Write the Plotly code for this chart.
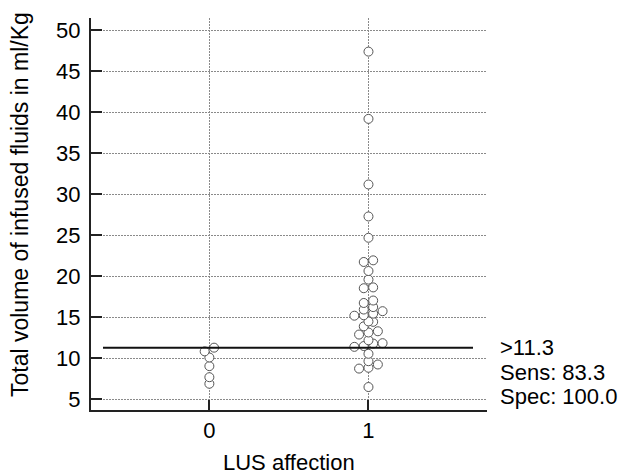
import plotly.graph_objects as go

# ---- data ----
categories = [0, 1]
group0_values = [11.3, 10.85, 10.1, 9.05, 7.7, 6.9]
group1_values = [47.4, 39.2, 31.2, 27.3, 24.7, 21.95, 21.75, 20.65, 19.6, 18.65,
                 18.55, 17.05, 16.75, 16.25, 15.95, 15.75, 15.45, 15.25, 15.2, 14.5,
                 14.45, 13.9, 13.3, 13.15, 12.9, 12.2, 11.85, 11.8, 11.5, 11.4,
                 10.55, 9.65, 9.25, 8.85, 8.75, 6.5]
cutoff = 11.3
y_ticks = [5, 10, 15, 20, 25, 30, 35, 40, 45, 50]
annot_texts = [">11.3", "Sens: 83.3", "Spec: 100.0"]

# ---- layout constants ----
W, H = 619, 475
ML, MR, MT, MB = 91, 132, 18, 65
XR = [-0.744, 1.745]
YR = [3.7, 51.5]
FONT = "Liberation Sans, Arial, sans-serif"
FS = 22

px_per_xunit = (W - ML - MR) / (XR[1] - XR[0])
slot = 9.4 / px_per_xunit   # horizontal spacing between side-by-side dots
bin_w = 0.58                # vertical bin size (data units)


def swarm(cat, values):
    vals = sorted(values)
    xs, ys = [], []
    i = 0
    while i < len(vals):
        j = i
        while j + 1 < len(vals) and vals[j + 1] - vals[i] < bin_w:
            j += 1
        n = j - i + 1
        for k in range(n):
            xs.append(cat + (k - (n - 1) / 2) * slot)
            ys.append(vals[i + k])
        i = j + 1
    return xs, ys


fig = go.Figure()
for cat, vals in zip(categories, [group0_values, group1_values]):
    xs, ys = swarm(cat, vals)
    fig.add_trace(go.Scatter(
        x=xs, y=ys, mode="markers",
        marker=dict(symbol="circle", size=9, color="white",
                    line=dict(color="#555555", width=1)),
        showlegend=False, hoverinfo="y"))

# cutoff line
fig.add_shape(type="line", xref="x", yref="y",
              x0=XR[0] + 12 / px_per_xunit, x1=XR[1] - 14 / px_per_xunit,
              y0=cutoff, y1=cutoff, line=dict(color="#111111", width=2))

annotations = []
for i, t in enumerate(annot_texts):
    annotations.append(dict(
        text=t, xref="paper", yref="y", x=1.0 + 11 / (W - ML - MR), y=cutoff,
        yshift=-24.5 * i, xanchor="left", yanchor="middle", showarrow=False,
        font=dict(family=FONT, size=FS, color="black")))

plot_h = H - MT - MB
annotations.append(dict(
    text="Total volume of infused fluids in ml/Kg", textangle=-90,
    xref="paper", yref="paper", x=(20 - ML) / (W - ML - MR),
    y=(H - MB - 205) / plot_h, xanchor="center", yanchor="middle",
    showarrow=False, font=dict(family=FONT, size=23, color="black")))
annotations.append(dict(
    text="LUS affection", xref="paper", yref="paper", x=0.5,
    y=(H - MB - 462) / plot_h, xanchor="center", yanchor="middle",
    showarrow=False, font=dict(family=FONT, size=FS, color="black")))

fig.update_layout(
    width=W, height=H,
    margin=dict(l=ML, r=MR, t=MT, b=MB, pad=0),
    paper_bgcolor="white", plot_bgcolor="white",
    font=dict(family=FONT, size=FS, color="black"),
    annotations=annotations,
    xaxis=dict(range=XR, tickmode="array", tickvals=categories,
               ticktext=[str(c) for c in categories],
               showgrid=True, gridcolor="#8a8a8a", griddash="2px,1px", gridwidth=1,
               showline=True, linecolor="#222222", linewidth=2,
               ticks="inside", ticklen=10, tickwidth=2, tickcolor="#222222",
               ticklabelstandoff=0, zeroline=False, fixedrange=True),
    yaxis=dict(range=YR, tickmode="array", tickvals=y_ticks,
               showgrid=True, gridcolor="#8a8a8a", griddash="2px,1px", gridwidth=1,
               showline=True, linecolor="#222222", linewidth=2,
               ticks="inside", ticklen=11, tickwidth=2, tickcolor="#222222",
               ticklabelstandoff=4, zeroline=False, fixedrange=True),
)

fig.write_html("out.html")
